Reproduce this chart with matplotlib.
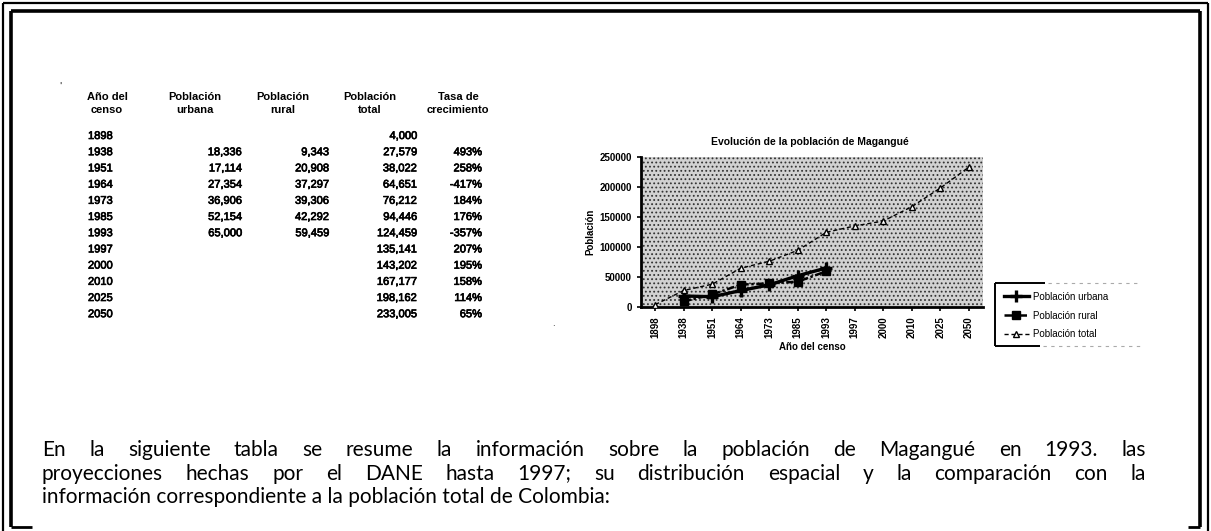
import matplotlib
matplotlib.use("Agg")
import matplotlib.pyplot as plt
import matplotlib.patheffects as pe
from matplotlib.lines import Line2D
from matplotlib.patches import Rectangle

# datos de la tabla
anios = ["1898", "1938", "1951", "1964", "1973", "1985", "1993",
         "1997", "2000", "2010", "2025", "2050"]
urbana = [None, 18336, 17114, 27354, 36906, 52154, 65000,
          None, None, None, None, None]
rural = [None, 9343, 20908, 37297, 39306, 42292, 59459,
         None, None, None, None, None]
total = [4000, 27579, 38022, 64651, 76212, 94446, 124459,
         135141, 143202, 167177, 198162, 233005]
tasa = ["", "493%", "258%", "-417%", "184%", "176%", "-357%",
        "207%", "195%", "158%", "114%", "65%"]

parrafo = [
    "En la siguiente tabla se resume la información sobre la  población de Magangué en 1993. las",
    "proyecciones hechas por el DANE hasta 1997; su distribución espacial y la comparación con la",
    "información correspondiente a la población total de Colombia:",
]

W, H = 1211, 531
fig = plt.figure(figsize=(W / 100, H / 100), dpi=100)
fig.patch.set_facecolor("white")


def fx(x):
    return x / W


def fy(y):
    return 1 - y / H


def linea(xs, ys, lw, **kw):
    fig.add_artist(Line2D([fx(v) for v in xs], [fy(v) for v in ys],
                          color=kw.pop("color", "black"), lw=lw,
                          solid_capstyle="butt", **kw))


# marco doble
linea([3, 1208], [3, 3], 1.6)
linea([3, 3], [3, 531], 1.6)
linea([1208, 1208], [3, 531], 1.6)
linea([11, 1200], [11, 11], 2.6)
linea([11, 11], [11, 527], 2.6)
linea([11, 32], [527, 527], 2.0)
linea([1200, 1200], [11, 527], 2.6)
linea([1188, 1200], [527, 527], 2.0)

# tabla
grueso = [pe.withStroke(linewidth=0.5, foreground="black")]
tf = dict(family="Liberation Sans", fontsize=8, color="black")
enc = [("Año del", "censo", 107), ("Población", "urbana", 195),
       ("Población", "rural", 283), ("Población", "total", 370),
       ("Tasa de", "crecimiento", 458)]
for l1, l2, cx in enc:
    fig.text(fx(cx), fy(97), l1, ha="center", va="center", fontweight="bold", **tf)
    fig.text(fx(cx), fy(110), l2, ha="center", va="center", fontweight="bold", **tf)

for i, a in enumerate(anios):
    y = fy(136 + i * 16.2)
    fig.text(fx(88), y, a, ha="left", va="center", path_effects=grueso, **tf)
    if urbana[i] is not None:
        fig.text(fx(242), y, f"{urbana[i]:,}", ha="right", va="center", path_effects=grueso, **tf)
    if rural[i] is not None:
        fig.text(fx(329), y, f"{rural[i]:,}", ha="right", va="center", path_effects=grueso, **tf)
    fig.text(fx(417), y, f"{total[i]:,}", ha="right", va="center", path_effects=grueso, **tf)
    fig.text(fx(482), y, tasa[i], ha="right", va="center", path_effects=grueso, **tf)

fig.text(fx(60), fy(86), "'", ha="center", va="center", fontsize=6)

# grafico
ax = fig.add_axes([fx(641), fy(307), (983 - 641) / W, (307 - 157) / H])
plt.rcParams["hatch.linewidth"] = 0.8
ax.add_patch(Rectangle((0, 0), 1, 1, transform=ax.transAxes, facecolor="#d2d2d2",
                       edgecolor="#333333", hatch="....", lw=0, zorder=0))
x = list(range(len(anios)))
xu = [i for i in x if urbana[i] is not None]
ax.plot(xu, [urbana[i] for i in xu], color="black", lw=2.4, marker="+",
        ms=8, mew=2.4, label="Población urbana", zorder=3)
ax.plot(xu, [rural[i] for i in xu], color="black", lw=1.8, ls=(0, (3, 1, 1, 1)),
        marker="s", ms=5.5, label="Población rural", zorder=3)
ax.plot(x, total, color="black", lw=1.0, ls=(0, (3, 2)), marker="^", ms=4.5,
        mfc="white", mec="black", label="Población total", zorder=3)

ax.set_xlim(-0.5, len(anios) - 0.5)
ax.set_ylim(0, 250000)
ax.set_yticks(range(0, 250001, 50000))
ax.set_yticklabels([str(v) for v in range(0, 250001, 50000)])
ax.set_xticks(x)
ax.set_xticklabels(anios, rotation=90)
for s in ["top", "right"]:
    ax.spines[s].set_visible(False)
for s in ["left", "bottom"]:
    ax.spines[s].set_linewidth(2)
ax.tick_params(labelsize=7, width=1.2, length=3)
for t in ax.get_xticklabels() + ax.get_yticklabels():
    t.set_fontweight("bold")
    t.set_family("Liberation Sans")
ax.set_xlabel("Año del censo", fontsize=7, fontweight="bold", family="Liberation Sans", labelpad=3)
ax.set_ylabel("Población", fontsize=7, fontweight="bold", family="Liberation Sans", labelpad=3)
fig.text(fx(810), fy(142), "Evolución de la población de Magangué", ha="center", va="center",
         fontsize=7.5, fontweight="bold", family="Liberation Sans")

leg = fig.legend(loc="upper left", bbox_to_anchor=(fx(996), fy(284)),
                 frameon=False, handlelength=2.6, borderpad=0.3, handletextpad=0.4,
                 labelspacing=0.9, prop={"family": "Liberation Sans", "size": 7})
# borde del cuadro de leyenda
linea([995, 995], [283, 346], 1.4)
linea([995, 1045], [283, 283], 1.4)
linea([1048, 1140], [283, 283], 0.8, ls=(0, (3, 4)), color="#aaaaaa")
linea([995, 1040], [346, 346], 1.4)
linea([1043, 1140], [346, 346], 0.8, ls=(0, (3, 4)), color="#aaaaaa")

fig.text(fx(553), fy(323), ".", ha="center", va="center", fontsize=6)

# parrafo justificado
fig.canvas.draw()
r = fig.canvas.get_renderer()
pf = dict(family="Lato", fontsize=15, color="black")
x0, x1 = 42, 1146
for k, linea_txt in enumerate(parrafo):
    y = fy(450 + k * 23.5)
    palabras = [p for p in linea_txt.split(" ") if p]
    if k == len(parrafo) - 1:
        fig.text(fx(x0), y, linea_txt, ha="left", va="center", **pf)
        continue
    arts = [fig.text(0, y, p, ha="left", va="center", **pf) for p in palabras]
    anchos = [a.get_window_extent(r).width for a in arts]
    hueco = (x1 - x0 - sum(anchos)) / (len(arts) - 1)
    pos = x0
    for a, w in zip(arts, anchos):
        a.set_x(fx(pos))
        pos += w + hueco

fig.savefig("out.png", dpi=100)
